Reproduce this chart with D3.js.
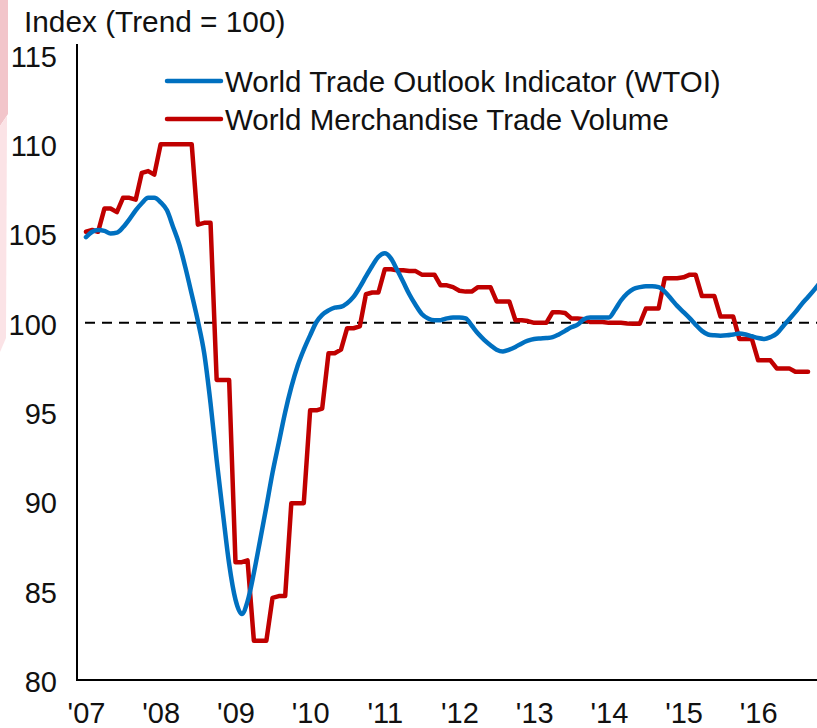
<!DOCTYPE html>
<html>
<head>
<meta charset="utf-8">
<script src="https://cdn.jsdelivr.net/npm/d3@7"></script>
<style>
  body { margin: 0; background: #fff; }
  text { font-family: "Liberation Sans", Arial, sans-serif; fill: #111; }
</style>
</head>
<body>
<div id="chart"></div>
<script>
// series names shown in the legend
let seriesNames = ["World Trade Outlook Indicator (WTOI)", "World Merchandise Trade Volume"];
let seriesColors = ["#0070C0", "#C00000"];

// monthly values from Jan 2007
let startMonth = new Date(2007, 0, 1);

let wtoi = [
  104.8, 105.1, 105.2, 105.15, 105.0, 105.05, 105.35, 105.8, 106.3, 106.7, 107.0, 107.0,
  106.75, 106.3, 105.4, 104.4, 103.1, 101.6, 100.1, 98.3, 95.5, 92.3, 89.3, 86.5,
  84.5, 83.7, 84.4, 86.0, 87.8, 89.7, 91.6, 93.3, 95.0, 96.4, 97.6, 98.5,
  99.3, 100.05, 100.45, 100.7, 100.85, 100.9, 101.1, 101.45, 102.0, 102.6, 103.2, 103.7,
  103.9, 103.6, 103.0, 102.3, 101.6, 101.0, 100.5, 100.25, 100.15, 100.15, 100.25, 100.3,
  100.3, 100.25, 99.85, 99.4, 99.05, 98.75, 98.5, 98.4, 98.5, 98.65, 98.85, 99.0,
  99.1, 99.13, 99.15, 99.2, 99.35, 99.55, 99.75, 99.9, 100.2, 100.3, 100.3, 100.3,
  100.3, 100.75, 101.25, 101.65, 101.9, 102.0, 102.05, 102.05, 102.0, 101.75, 101.35, 100.95,
  100.6, 100.25, 99.9, 99.55, 99.35, 99.3, 99.28, 99.3, 99.35, 99.4, 99.35, 99.25,
  99.15, 99.1, 99.2, 99.4, 99.8, 100.2, 100.6, 101.05, 101.45, 101.85, 102.3
];

let tradeVolume = [
  105.1, 105.2, 105.1, 106.4, 106.4, 106.2, 107.0, 107.0, 106.9, 108.4, 108.5, 108.3,
  110.0, 110.0, 110.0, 110.0, 110.0, 110.0, 105.5, 105.6, 105.6, 96.8, 96.8, 96.8,
  86.6, 86.6, 86.7, 82.2, 82.2, 82.2, 84.6, 84.7, 84.7, 89.9, 89.9, 89.9,
  95.1, 95.1, 95.2, 98.3, 98.3, 98.5, 99.7, 99.7, 99.8, 101.6, 101.7, 101.7,
  103.0, 103.0, 102.95, 102.95, 102.9, 102.9, 102.7, 102.7, 102.7, 102.1, 102.1, 102.0,
  101.8, 101.75, 101.75, 102.0, 102.0, 102.0, 101.2, 101.2, 101.2, 100.15, 100.15, 100.1,
  100.0, 100.0, 100.0, 100.6, 100.6, 100.55, 100.25, 100.25, 100.2, 100.05, 100.05, 100.05,
  100.0, 100.0, 100.0, 99.97, 99.95, 99.95, 100.8, 100.8, 100.8, 102.5, 102.5, 102.5,
  102.55, 102.7, 102.7, 101.5, 101.5, 101.5, 100.35, 100.35, 100.35, 99.1, 99.1, 99.1,
  97.9, 97.9, 97.9, 97.45, 97.45, 97.45, 97.26, 97.26, 97.26
];

// tick labels
let yearLabels = ["'07", "'08", "'09", "'10", "'11", "'12", "'13", "'14", "'15", "'16"];
let yTicks = [80, 85, 90, 95, 100, 105, 110, 115];
let trendLevel = 100;

let svgWidth = 817;
let svgHeight = 728;

let svg = d3.select("#chart")
  .append("svg")
  .attr("width", svgWidth)
  .attr("height", svgHeight);

// faint pink strip from the slide background on the left edge
svg.append("polygon")
  .attr("points", "0,0 8,0 8,114 0,126")
  .attr("fill", "#F2C5CA");
svg.append("polygon")
  .attr("points", "0,126 7,116 6,338 0,352")
  .attr("fill", "#FBE3E6");

// scales
let x = d3.scaleTime()
  .domain([startMonth, new Date(2017, 0, 1)])
  .range([86, 86 + 747]);

let y = d3.scaleLinear()
  .domain([80, 115])
  .range([680, 55]);

let monthOf = i => d3.timeMonth.offset(startMonth, i);

// axis lines
svg.append("line")
  .attr("x1", 77).attr("x2", 77)
  .attr("y1", 44).attr("y2", y(80) + 1)
  .attr("stroke", "#000").attr("stroke-width", 2);
svg.append("line")
  .attr("x1", 76).attr("x2", svgWidth)
  .attr("y1", y(80)).attr("y2", y(80))
  .attr("stroke", "#000").attr("stroke-width", 2);

// y axis labels
let yAxis = d3.axisLeft(y)
  .tickValues(yTicks)
  .tickSize(0)
  .tickPadding(20);
let yAxisG = svg.append("g")
  .attr("transform", "translate(77,0)")
  .call(yAxis);
yAxisG.select(".domain").remove();
yAxisG.selectAll("text")
  .attr("font-size", "29px")
  .attr("font-family", "Liberation Sans, Arial, sans-serif")
  .attr("fill", "#111")
  .attr("dy", "0.39em");

// x axis labels at the start of each year
let xAxis = d3.axisBottom(x)
  .tickValues(yearLabels.map((d, i) => new Date(2007 + i, 0, 1)))
  .tickFormat((d, i) => yearLabels[i])
  .tickSize(0)
  .tickPadding(22);
let xAxisG = svg.append("g")
  .attr("transform", `translate(0,${y(80)})`)
  .call(xAxis);
xAxisG.select(".domain").remove();
xAxisG.selectAll("text")
  .attr("font-size", "29px")
  .attr("font-family", "Liberation Sans, Arial, sans-serif")
  .attr("fill", "#111");

// trend line
svg.append("line")
  .attr("x1", 85).attr("x2", svgWidth)
  .attr("y1", y(trendLevel)).attr("y2", y(trendLevel))
  .attr("stroke", "#000")
  .attr("stroke-width", 2)
  .attr("stroke-dasharray", "10,7");

// series lines
let smoothLine = d3.line()
  .x((d, i) => x(monthOf(i)))
  .y(d => y(d))
  .curve(d3.curveMonotoneX);

let stepLine = d3.line()
  .x((d, i) => x(monthOf(i)))
  .y(d => y(d));

svg.append("path")
  .datum(tradeVolume)
  .attr("d", stepLine)
  .attr("fill", "none")
  .attr("stroke", seriesColors[1])
  .attr("stroke-width", 4.5)
  .attr("stroke-linejoin", "round")
  .attr("stroke-linecap", "round");

svg.append("path")
  .datum(wtoi)
  .attr("d", smoothLine)
  .attr("fill", "none")
  .attr("stroke", seriesColors[0])
  .attr("stroke-width", 4.5)
  .attr("stroke-linecap", "round");

// title
svg.append("text")
  .attr("x", 24)
  .attr("y", 32)
  .attr("font-size", "29.8px")
  .text("Index (Trend = 100)");

// legend
let legend = svg.append("g")
  .attr("transform", "translate(167,81)");

seriesNames.forEach(function(name, i) {
  let row = legend.append("g")
    .attr("transform", `translate(0,${i * 38})`);
  row.append("line")
    .attr("x1", 0).attr("x2", 54)
    .attr("y1", 0).attr("y2", 0)
    .attr("stroke", seriesColors[i])
    .attr("stroke-width", 4.5)
    .attr("stroke-linecap", "round");
  row.append("text")
    .attr("x", 58)
    .attr("y", 0)
    .attr("dy", "0.36em")
    .attr("font-size", "29.5px")
    .text(name);
});
</script>
</body>
</html>
